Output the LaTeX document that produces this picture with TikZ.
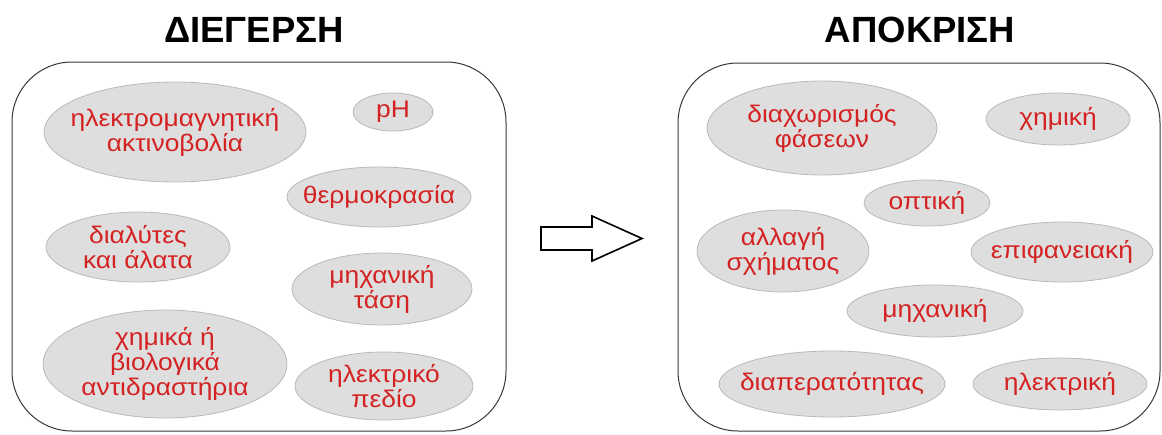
\documentclass[tikz,border=0pt]{standalone}
\usepackage{fontspec}
\setmainfont{Liberation Sans}
\newfontfamily\bubfont{Liberation Sans}[FakeStretch=1.1]
\usetikzlibrary{shapes.geometric}
\definecolor{txtred}{RGB}{212,34,34}
\definecolor{bubfill}{RGB}{222,222,222}
\definecolor{bubline}{RGB}{185,185,185}
\definecolor{boxline}{RGB}{55,55,55}
\tikzset{
  bub/.style={ellipse, fill=bubfill, draw=bubline, line width=0.8pt, inner sep=0pt},
  txt/.style={text=txtred, align=center, font=\bubfont\fontsize{24}{25}\selectfont, inner sep=0pt},
  ttl/.style={font=\fontsize{36.5}{40}\bfseries\selectfont, anchor=base, inner sep=0pt},
  panel/.style={draw=boxline, line width=1pt, rounded corners=60pt},
  bigarrow/.style={draw=black, line width=1.6pt, fill=white, line join=miter}
}
\begin{document}
\begin{tikzpicture}[x=1pt,y=-1pt]
\useasboundingbox (0,0) rectangle (1162,434);
% titles
\node[ttl] (t1) at (254,42) {ΔΙΕΓΕΡΣΗ};
\node[ttl] (t2) at (920,42) {ΑΠΟΚΡΙΣΗ};
% panels
\draw[panel] (12,62) rectangle (506,431);
\draw[panel] (678,63) rectangle (1160,431);
% arrow
\draw[bigarrow] (541,227) -- (592,227) -- (592,216) -- (642,238.5) -- (592,261) -- (592,250) -- (541,250) -- cycle;
% left bubbles
\node[bub, minimum width=262pt, minimum height=100pt] (l1) at (175,132) {};
\node[txt] at (l1) {ηλεκτρομαγνητική\\ακτινοβολία};
\node[bub, minimum width=80pt, minimum height=38pt] (l2) at (393,112) {};
\node[txt] at (l2) {pH};
\node[bub, minimum width=184pt, minimum height=60pt] (l3) at (379,197) {};
\node[txt] at (l3) {θερμοκρασία};
\node[bub, minimum width=184pt, minimum height=70pt] (l4) at (138,247) {};
\node[txt] at (l4) {διαλύτες\\και άλατα};
\node[bub, minimum width=180pt, minimum height=72pt] (l5) at (382,289) {};
\node[txt] at (l5) {μηχανική\\τάση};
\node[bub, minimum width=244pt, minimum height=108pt] (l6) at (165,364) {};
\node[txt] at (l6) {χημικά ή\\βιολογικά\\αντιδραστήρια};
\node[bub, minimum width=178pt, minimum height=68pt] (l7) at (384,386) {};
\node[txt] at (l7) {ηλεκτρικό\\πεδίο};
% right bubbles
\node[bub, minimum width=230pt, minimum height=94pt] (r1) at (822,128) {};
\node[txt] at (r1) {διαχωρισμός\\φάσεων};
\node[bub, minimum width=144pt, minimum height=52pt] (r2) at (1058,119) {};
\node[txt] at (r2) {χημική};
\node[bub, minimum width=126pt, minimum height=46pt] (r3) at (927,203) {};
\node[txt] at (r3) {οπτική};
\node[bub, minimum width=172pt, minimum height=82pt] (r4) at (783,251) {};
\node[txt] at (r4) {αλλαγή\\σχήματος};
\node[bub, minimum width=182pt, minimum height=60pt] (r5) at (1062,252) {};
\node[txt] at (r5) {επιφανειακή};
\node[bub, minimum width=176pt, minimum height=52pt] (r6) at (935,311) {};
\node[txt] at (r6) {μηχανική};
\node[bub, minimum width=226pt, minimum height=66pt] (r7) at (832,384) {};
\node[txt] at (r7) {διαπερατότητας};
\node[bub, minimum width=174pt, minimum height=52pt] (r8) at (1060,384) {};
\node[txt] at (r8) {ηλεκτρική};
\end{tikzpicture}
\end{document}
